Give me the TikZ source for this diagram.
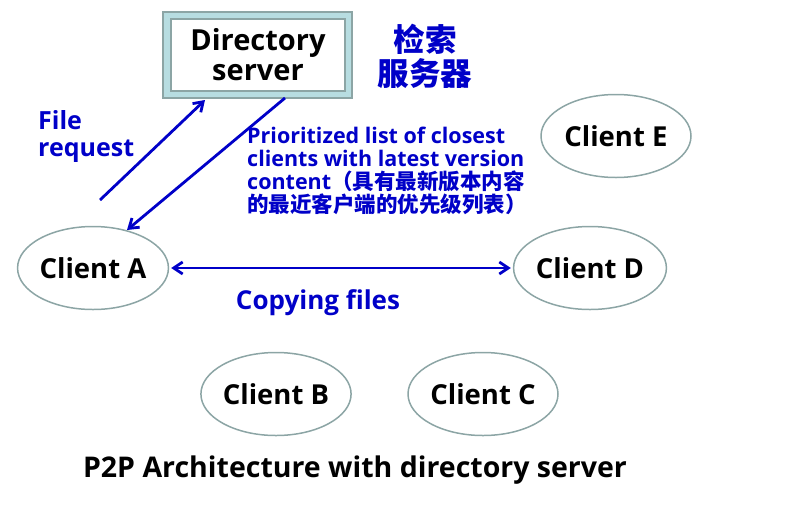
\documentclass[tikz,border=0pt]{standalone}
\usepackage{fontspec}
\setmainfont{Open Sans}
\newfontfamily\cjk{Noto Sans CJK SC}
\usetikzlibrary{arrows.meta,shapes.geometric}
\definecolor{dblue}{RGB}{0,0,200}
\definecolor{edgegray}{RGB}{140,165,165}
\definecolor{boxfill}{RGB}{183,221,225}
\tikzset{
  client/.style={ellipse, draw=edgegray, line width=1.5pt, minimum width=150pt, minimum height=83pt, inner sep=0pt, font=\fontsize{27.5}{30}\selectfont\bfseries},
  bluetext/.style={text=dblue, font=\bfseries},
  barb/.tip={Straight Barb[length=9pt,width=12pt,line width=2.8pt]},
  conn/.style={draw=dblue, line width=2.8pt, -barb},
}
\begin{document}
\begin{tikzpicture}[x=1pt,y=-1pt]
\useasboundingbox (0,0) rectangle (786,504);
% directory server
\node[draw=edgegray, fill=boxfill, line width=1.8pt, minimum width=189pt, minimum height=86pt] (outer) at (257.5,55) {};
\node[draw=edgegray, fill=white, line width=1.4pt, minimum width=174pt, minimum height=72pt, align=center, font=\fontsize{29}{30}\selectfont\bfseries] (dir) at (258,55) {Directory\\server};
\node[bluetext, align=center, font=\cjk\fontsize{31.5}{34}\selectfont\bfseries] (cn) at (425,56) {检索\\服务器};
% clients
\node[client] (A) at (93,268) {Client A};
\node[client] (D) at (590,268) {Client D};
\node[client] (E) at (616,136) {Client E};
\node[client] (B) at (276,394) {Client B};
\node[client] (C) at (483,394) {Client C};
% labels
\node[bluetext, align=left, anchor=north west, font=\fontsize{25}{27}\selectfont\bfseries, inner sep=0pt] (fr) at (38,110) {File\\request};
\node[bluetext, align=left, anchor=north west, inner sep=0pt, font=\fontsize{21.5}{23}\selectfont\bfseries] (pl) at (247,127) {Prioritized list of closest\\clients with latest version\\content{\cjk（具有最新版本内容}\\{\cjk 的最近客户端的优先级列表）}};
\node[bluetext, font=\fontsize{26}{27}\selectfont\bfseries] (cf) at (318,303) {Copying files};
\node[font=\fontsize{28.5}{30}\selectfont\bfseries] (title) at (355,470) {P2P Architecture with directory server};
% connectors
\coordinate (a1) at (100,200);
\coordinate (s1) at (205,100);
\coordinate (s2) at (285,98);
\coordinate (a2) at (127,230);
\draw[conn] (a1) -- (s1);
\draw[conn] (s2) -- (a2);
\draw[draw=dblue, line width=2.8pt, barb-barb] ([xshift=2pt]A.east) -- ([xshift=-2pt]D.west);
\end{tikzpicture}
\end{document}
